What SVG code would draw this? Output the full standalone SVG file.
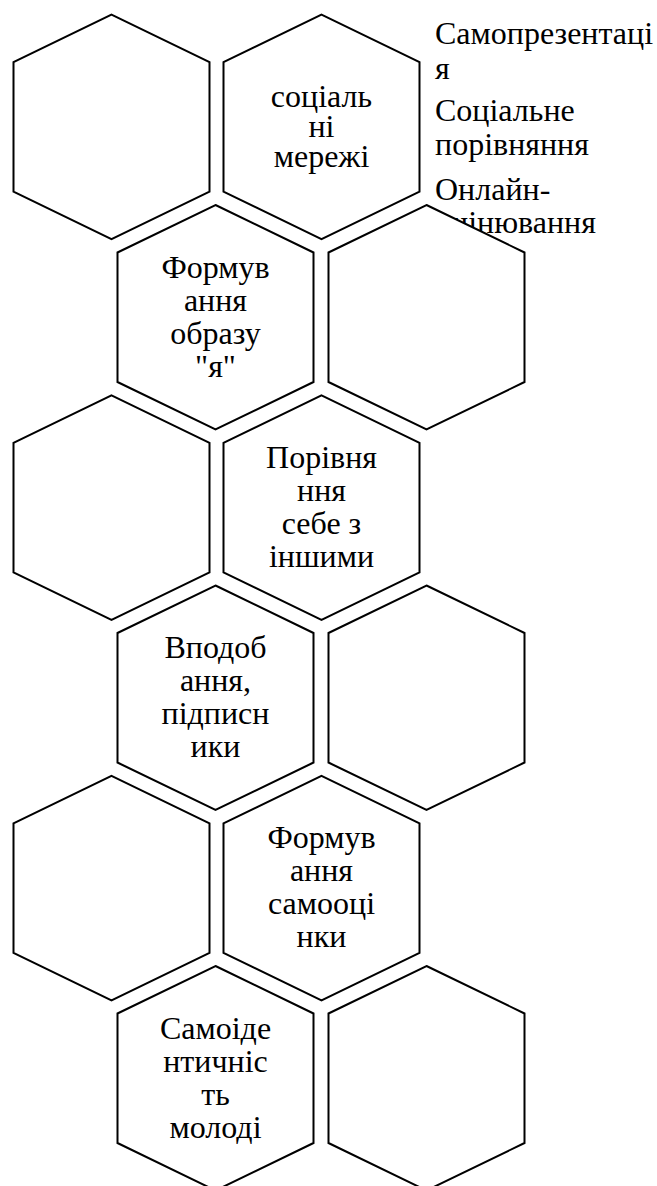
<svg xmlns="http://www.w3.org/2000/svg" width="657" height="1186" viewBox="0 0 657 1186">
<style>
.hex{fill:#fff;stroke:#000;stroke-width:2;stroke-linejoin:miter}
text{font-family:"Liberation Serif","Times New Roman",serif;font-size:32px;fill:#000}
.c{text-anchor:middle}
</style>
<defs>
<polygon id="h" points="0,0 98,47.5 98,177 0,224.5 -98,177 -98,47.5"/>
</defs>
<rect width="657" height="1186" fill="#fff"/>
<g id="side-text">
<text x="435" y="44">Самопрезентаці</text>
<text x="435" y="79">я</text>
<text x="435" y="121">Соціальне</text>
<text x="435" y="155">порівняння</text>
<text x="435" y="200">Онлайн-</text>
<text x="435" y="233">оцінювання</text>
</g>
<g id="connectors"/>
<g id="hex-r1-left"><use href="#h" class="hex" x="111.5" y="14.7"/></g>
<g id="hex-social">
<use href="#h" class="hex" x="321.5" y="14.7"/>
<text class="c" x="321.5" y="107">соціаль</text>
<text class="c" x="321.5" y="137">ні</text>
<text class="c" x="321.5" y="167">мережі</text>
</g>
<g id="hex-image">
<use href="#h" class="hex" x="215.5" y="205"/>
<text class="c" x="215.5" y="278">Формув</text>
<text class="c" x="215.5" y="311">ання</text>
<text class="c" x="215.5" y="344">образу</text>
<text class="c" x="215.5" y="377">"я"</text>
</g>
<g id="hex-r2-right"><use href="#h" class="hex" x="426.5" y="205"/></g>
<g id="hex-r3-left"><use href="#h" class="hex" x="111.5" y="395.3"/></g>
<g id="hex-compare">
<use href="#h" class="hex" x="321.5" y="395.3"/>
<text class="c" x="321.5" y="468">Порівня</text>
<text class="c" x="321.5" y="501">ння</text>
<text class="c" x="321.5" y="534">себе з</text>
<text class="c" x="321.5" y="567">іншими</text>
</g>
<g id="hex-likes">
<use href="#h" class="hex" x="215.5" y="585.5"/>
<text class="c" x="215.5" y="658">Вподоб</text>
<text class="c" x="215.5" y="691">ання,</text>
<text class="c" x="215.5" y="724">підписн</text>
<text class="c" x="215.5" y="757">ики</text>
</g>
<g id="hex-r4-right"><use href="#h" class="hex" x="426.5" y="585.5"/></g>
<g id="hex-r5-left"><use href="#h" class="hex" x="111.5" y="775.8"/></g>
<g id="hex-selfesteem">
<use href="#h" class="hex" x="321.5" y="775.8"/>
<text class="c" x="321.5" y="848">Формув</text>
<text class="c" x="321.5" y="881">ання</text>
<text class="c" x="321.5" y="914">самооці</text>
<text class="c" x="321.5" y="947">нки</text>
</g>
<g id="hex-identity">
<use href="#h" class="hex" x="215.5" y="966"/>
<text class="c" x="215.5" y="1039">Самоіде</text>
<text class="c" x="215.5" y="1072">нтичніс</text>
<text class="c" x="215.5" y="1105">ть</text>
<text class="c" x="215.5" y="1138">молоді</text>
</g>
<g id="hex-r6-right"><use href="#h" class="hex" x="426.5" y="966"/></g>
</svg>
